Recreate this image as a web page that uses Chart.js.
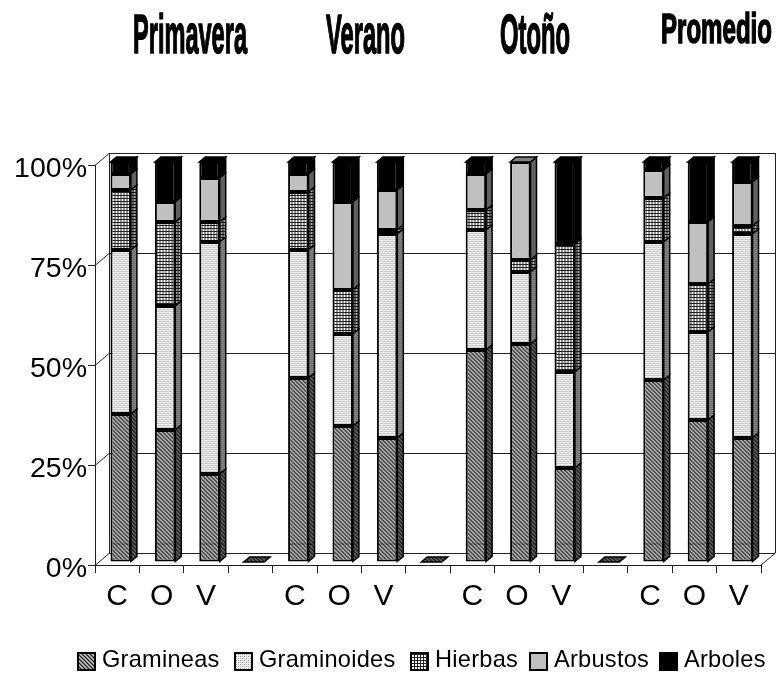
<!DOCTYPE html>
<html>
<head>
<meta charset="utf-8">
<style>
  html, body { margin: 0; padding: 0; background: #fff; }
  canvas { display: block; }
</style>
<script src="https://cdn.jsdelivr.net/npm/chart.js@4"></script>
</head>
<body>
<canvas id="chart" width="777" height="673"></canvas>
<script>
const categories = ['C', 'O', 'V', '', 'C', 'O', 'V', '', 'C', 'O', 'V', '', 'C', 'O', 'V'];
const seriesNames = ['Gramineas', 'Graminoides', 'Hierbas', 'Arbustos', 'Arboles'];
const gramineas   = [37, 33, 22, 0, 46, 34, 31, 0, 53, 54.5, 23.5, 0, 45.5, 35.5, 31];
const graminoides = [41, 31, 58, 0, 32, 23, 51, 0, 30, 18, 24, 0, 34.5, 22, 51];
const hierbas     = [15, 21, 5, 0, 14.5, 11, 1, 0, 5, 3, 32, 0, 11, 12, 2];
const arbustos    = [4, 5, 11, 0, 4.5, 22, 10, 0, 9, 24.5, 0, 0, 7, 15.5, 11];
const arboles     = [3, 10, 4, 0, 3, 10, 7, 0, 3, 0, 20.5, 0, 2, 15, 5];
const yTicks = [0, 25, 50, 75, 100];
const seasonTitles = ['Primavera', 'Verano', 'Otoño', 'Promedio'];

// layout of the texts that are not part of the axes: [left, right, baseline, font size]
const titleBoxes = [[133, 247, 53, 56], [326, 405, 53, 56], [500, 570, 53, 56], [661, 772, 43, 42]];
const legendBoxX = [78, 235, 411, 530, 660];
const FONT = '"Liberation Sans", Arial, sans-serif';

function makePattern(kind, darken) {
    const c = document.createElement('canvas');
    const g = c.getContext('2d');
    const size = kind === 'grid' ? 3 : 4;
    c.width = c.height = size;
    g.fillStyle = kind === 'dots' ? '#eee' : '#fff';
    g.fillRect(0, 0, size, size);
    if (kind === 'hatch') {
        ['#222', '#777', '#ccc', '#888'].forEach((col, k) => {
            g.fillStyle = col;
            for (let i = 0; i < 4; i++) g.fillRect((i + k) % 4, i, 1, 1);
        });
    } else if (kind === 'dots') {
        g.fillStyle = '#999';
        g.fillRect(0, 0, 1, 1);
        g.fillRect(2, 2, 1, 1);
        g.fillStyle = '#bbb';
        g.fillRect(2, 0, 1, 1);
        g.fillRect(0, 2, 1, 1);
    } else if (kind === 'grid') {
        g.fillStyle = '#222';
        g.fillRect(0, 0, 3, 1);
        g.fillRect(0, 0, 1, 3);
    }
    if (darken) {
        g.fillStyle = 'rgba(0,0,0,' + darken + ')';
        g.fillRect(0, 0, size, size);
    }
    return g.createPattern(c, 'repeat');
}

const fills = [makePattern('hatch'), makePattern('dots'), makePattern('grid'), '#c0c0c0', '#000'];
const sideFills = [makePattern('hatch', 0.45), makePattern('dots', 0.45), makePattern('grid', 0.35), '#606060', '#000'];
const values = [gramineas, graminoides, hierbas, arbustos, arboles];

function shape(ctx, pts, fill) {
    ctx.beginPath();
    pts.forEach((p, i) => i ? ctx.lineTo(p[0], p[1]) : ctx.moveTo(p[0], p[1]));
    ctx.closePath();
    ctx.fillStyle = fill;
    ctx.fill();
    ctx.strokeStyle = '#000';
    ctx.lineWidth = 1.5;
    ctx.stroke();
}

// highest series with a value at this category, the top face takes its fill
function topSeries(index) {
    for (let s = values.length - 1; s >= 0; s--) {
        if (values[s][index] > 0) return s;
    }
    return 0;
}

const fakeDepth = {
    id: 'fakeDepth',
    beforeDatasetsDraw(chart) {
        const { ctx, scales: { x, y } } = chart;
        const wallDx = 14, wallDy = -12;
        const right = x.right + wallDx;
        ctx.save();
        ctx.strokeStyle = '#222';
        ctx.lineWidth = 1;
        yTicks.forEach(v => {
            const py = Math.round(y.getPixelForValue(v)) + 0.5;
            ctx.beginPath();
            ctx.moveTo(x.left, py);
            ctx.lineTo(x.left + wallDx, py + wallDy);
            ctx.lineTo(right, py + wallDy);
            ctx.stroke();
        });
        ctx.beginPath();
        ctx.moveTo(x.left + wallDx + 0.5, y.top + wallDy);
        ctx.lineTo(x.left + wallDx + 0.5, y.bottom + wallDy);
        ctx.moveTo(right + 0.5, y.top + wallDy);
        ctx.lineTo(right + 0.5, y.bottom + wallDy);
        ctx.lineTo(x.right, y.bottom);
        ctx.stroke();
        ctx.restore();
    },
    beforeDatasetDraw(chart, args) {
        const { ctx } = chart;
        const dx = 6, dy = -5;
        ctx.save();
        ctx.translate(3.5, -3);
        chart.getDatasetMeta(args.index).data.forEach((bar, i) => {
            const p = bar.getProps(['x', 'y', 'base', 'width'], true);
            const x1 = p.x - p.width / 2, x2 = p.x + p.width / 2;
            if (values[args.index][i] > 0) {
                shape(ctx, [[x2, p.base], [x2 + dx, p.base + dy], [x2 + dx, p.y + dy], [x2, p.y]], sideFills[args.index]);
            }
            if (topSeries(i) === args.index) {
                const topFill = args.index === 3 ? '#808080' : sideFills[args.index];
                shape(ctx, [[x1, p.y], [x1 + dx, p.y + dy], [x2 + dx, p.y + dy], [x2, p.y]], topFill);
            }
        });
    },
    afterDatasetDraw(chart, args) {
        const { ctx, scales: { y } } = chart;
        if (args.index === 0) {
            // faint band the wall's floor leaves across the bars
            const py = y.getPixelForValue(4.5);
            ctx.strokeStyle = 'rgba(0,0,0,0.4)';
            ctx.lineWidth = 1;
            chart.getDatasetMeta(0).data.forEach((bar, i) => {
                if (!gramineas[i]) return;
                ctx.beginPath();
                ctx.moveTo(bar.x - bar.width / 2, py);
                ctx.lineTo(bar.x + bar.width / 2 + 6, py);
                ctx.stroke();
            });
        }
        ctx.restore();
    }
};

const seasonText = {
    id: 'seasonText',
    afterDraw(chart) {
        const { ctx } = chart;
        ctx.save();
        ctx.fillStyle = '#000';
        ctx.strokeStyle = '#000';
        ctx.textBaseline = 'alphabetic';
        seasonTitles.forEach((t, i) => {
            const [l, r, base, size] = titleBoxes[i];
            ctx.font = 'bold ' + size + 'px ' + FONT;
            const w = ctx.measureText(t).width;
            ctx.save();
            ctx.translate(l, base);
            ctx.scale((r - l) / w, 1);
            ctx.lineWidth = 1.6;
            ctx.fillText(t, 0, 0);
            ctx.strokeText(t, 0, 0);
            ctx.restore();
        });
        ctx.restore();
    }
};

const boxLegend = {
    id: 'boxLegend',
    afterDraw(chart) {
        const { ctx } = chart;
        ctx.save();
        ctx.font = '23.6px ' + FONT;
        ctx.letterSpacing = '0.25px';
        ctx.textBaseline = 'alphabetic';
        seriesNames.forEach((name, i) => {
            const bx = legendBoxX[i];
            ctx.fillStyle = fills[i];
            ctx.fillRect(bx, 653, 17, 17);
            ctx.strokeStyle = '#000';
            ctx.lineWidth = 2;
            ctx.strokeRect(bx, 653, 17, 17);
            ctx.fillStyle = '#000';
            ctx.fillText(name, bx + 24, 667);
        });
        ctx.restore();
    }
};

new Chart(document.getElementById('chart'), {
    type: 'bar',
    data: {
        labels: categories,
        datasets: seriesNames.map((name, i) => ({
            label: name,
            data: values[i],
            backgroundColor: fills[i],
            borderColor: '#000',
            borderWidth: 2,
            borderSkipped: false,
            barPercentage: 0.46,
            categoryPercentage: 1
        }))
    },
    options: {
        responsive: false,
        animation: false,
        devicePixelRatio: 1,
        layout: { padding: { top: 165, right: 16, bottom: 68, left: 0 } },
        plugins: {
            legend: { display: false },
            title: { display: false },
            tooltip: { enabled: false }
        },
        scales: {
            x: {
                stacked: true,
                afterFit(scale) {
                    scale.height = 40;
                    scale.paddingLeft = 0;
                    scale.paddingRight = 0;
                },
                border: { color: '#222', width: 1 },
                grid: { drawOnChartArea: false, color: '#222', tickLength: 8 },
                ticks: {
                    color: '#000',
                    font: { family: FONT, size: 30 },
                    autoSkip: false,
                    maxRotation: 0,
                    padding: 6
                }
            },
            y: {
                stacked: true,
                min: 0,
                max: 100,
                afterFit(scale) {
                    scale.width = 95;
                    scale.paddingTop = 0;
                    scale.paddingBottom = 0;
                },
                afterBuildTicks(scale) {
                    scale.ticks = yTicks.map(v => ({ value: v }));
                },
                border: { color: '#222', width: 1 },
                grid: { drawOnChartArea: false, color: '#222', tickLength: 7 },
                ticks: {
                    color: '#000',
                    font: { family: FONT, size: 28.5 },
                    padding: 1,
                    labelOffset: 4,
                    callback: v => v + '%'
                }
            }
        }
    },
    plugins: [fakeDepth, seasonText, boxLegend]
});
</script>
</body>
</html>
